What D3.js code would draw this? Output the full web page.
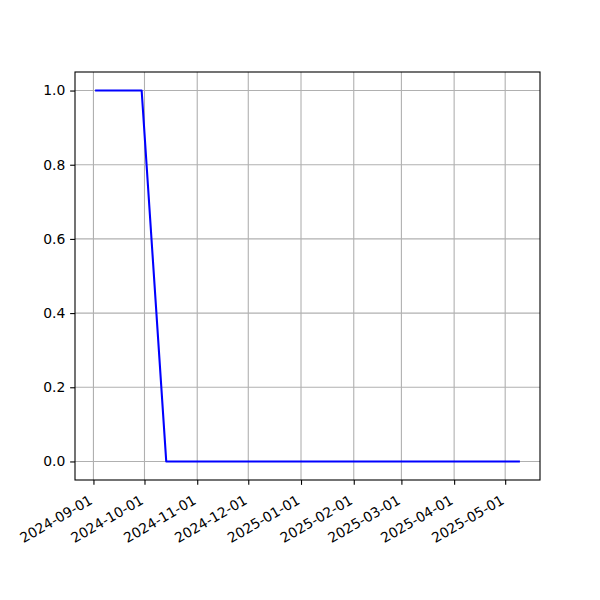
<!DOCTYPE html>
<html>
<head>
<meta charset="utf-8">
<script src="https://cdn.jsdelivr.net/npm/d3@7"></script>
<style>
  html, body { margin: 0; padding: 0; background: #fff; }
  svg { display: block; }
  text { font-family: "DejaVu Sans", sans-serif; font-size: 13.9px; fill: #000; }
</style>
</head>
<body>
<svg id="chart" width="600" height="600"></svg>
<script>
// ---- data ----
const dates = ["2024-09-02T14:00Z", "2024-09-29T08:00Z", "2024-10-13T19:00Z", "2025-05-09T01:00Z"];
const values = [1, 1, 0, 0];
const xTickLabels = ["2024-09-01", "2024-10-01", "2024-11-01", "2024-12-01", "2025-01-01",
                     "2025-02-01", "2025-03-01", "2025-04-01", "2025-05-01"];
const yTickValues = [0.0, 0.2, 0.4, 0.6, 0.8, 1.0];

(function () {
// ---- layout ----
const mLeft = 75, mRight = 540, mTop = 72, mBottom = 480;
const svg = d3.select("#chart");

const pts = dates.map((d, i) => ({ t: new Date(d), v: values[i] }));
const tExt = d3.extent(pts, d => d.t.getTime());
const tPad = (tExt[1] - tExt[0]) * 0.05;
const x = d3.scaleUtc()
  .domain([new Date(tExt[0] - tPad), new Date(tExt[1] + tPad)])
  .range([mLeft, mRight]);
const vExt = d3.extent(values);
const vPad = (vExt[1] - vExt[0]) * 0.05;
const y = d3.scaleLinear()
  .domain([vExt[0] - vPad, vExt[1] + vPad])
  .range([mBottom, mTop]);

const xTicks = xTickLabels.map(s => new Date(s + "T00:00Z"));

// grid
const grid = svg.append("g");
grid.selectAll(".gx").data(xTicks).enter().append("line")
  .attr("x1", d => x(d)).attr("x2", d => x(d))
  .attr("y1", mTop).attr("y2", mBottom)
  .attr("stroke", "#b0b0b0").attr("stroke-width", 1.1);
grid.selectAll(".gy").data(yTickValues).enter().append("line")
  .attr("x1", mLeft).attr("x2", mRight)
  .attr("y1", d => y(d)).attr("y2", d => y(d))
  .attr("stroke", "#b0b0b0").attr("stroke-width", 1.1);

// line
const line = d3.line().x(d => x(d.t)).y(d => y(d.v));
svg.append("path").datum(pts)
  .attr("d", line)
  .attr("fill", "none")
  .attr("stroke", "#0000ff")
  .attr("stroke-width", 2.08)
  .attr("stroke-linejoin", "round")
  .attr("stroke-linecap", "square");

// axes
const tickLen = 4.86, pad = 4.86;
const xAxis = d3.axisBottom(x).tickValues(xTicks).tickSize(tickLen).tickSizeOuter(0)
  .tickFormat((d, i) => xTickLabels[i]);
const gx = svg.append("g").attr("transform", `translate(0,${mBottom})`).call(xAxis);
gx.select(".domain").remove();
gx.selectAll(".tick line").attr("stroke", "#000").attr("stroke-width", 1.1);
const lh = 16;
gx.selectAll(".tick text")
  .attr("font-family", null).attr("font-size", null)
  .attr("y", null).attr("dy", null)
  .attr("text-anchor", "end")
  .attr("dominant-baseline", "text-before-edge")
  .attr("transform", `translate(${-lh * 0.5 + 1},${tickLen + pad + 2}) rotate(-30)`)
  .attr("x", 0);

const yAxis = d3.axisLeft(y).tickValues(yTickValues).tickSize(tickLen).tickSizeOuter(0)
  .tickPadding(pad).tickFormat(d3.format(".1f"));
const gy = svg.append("g").attr("transform", `translate(${mLeft},0)`).call(yAxis);
gy.select(".domain").remove();
gy.selectAll(".tick line").attr("stroke", "#000").attr("stroke-width", 1.1);
gy.selectAll(".tick text").attr("font-family", null).attr("font-size", null);

// spines
svg.append("rect")
  .attr("x", mLeft).attr("y", mTop)
  .attr("width", mRight - mLeft).attr("height", mBottom - mTop)
  .attr("fill", "none").attr("stroke", "#000").attr("stroke-width", 1.1);
})();
</script>
</body>
</html>
